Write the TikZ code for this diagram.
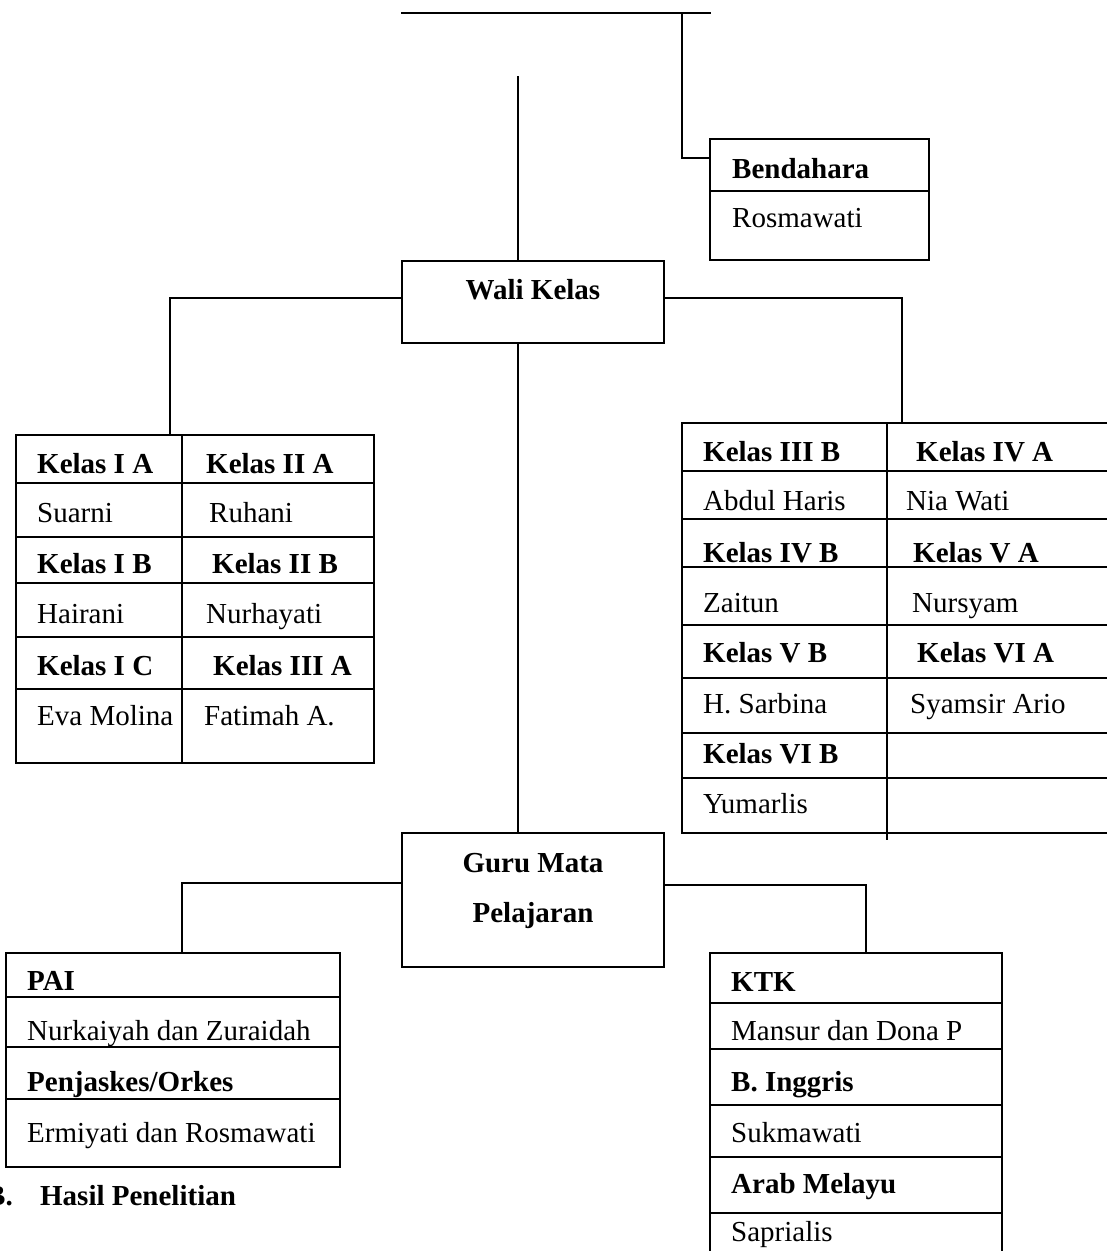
\documentclass[tikz,border=0pt]{standalone}
\usepackage{fontspec}
\setmainfont{Liberation Serif}
\newcommand\szz{\fontsize{29}{35}\selectfont}
\tikzset{
  ln/.style={line width=1.8pt},
  box/.style={draw, line width=1.8pt, rectangle, inner sep=0pt},
  frame/.style={rectangle, inner sep=0pt},
  hd/.style={anchor=base west, inner sep=0pt, font=\szz\bfseries},
  nm/.style={anchor=base west, inner sep=0pt, font=\szz},
  ctr/.style={anchor=base, inner sep=0pt, font=\szz\bfseries},
}
\begin{document}
\begin{tikzpicture}[x=1pt,y=-1pt]
\useasboundingbox (0,0) rectangle (1107,1251);
% free ends
\coordinate (tl) at (401,13);
\coordinate (tr) at (711,13);
\coordinate (tj) at (682,13);
\coordinate (vtop) at (518,76);
% boxes
\node[box, minimum width=219pt, minimum height=121pt] (bend) at (819.5,199.5) {};
\node[box, minimum width=262pt, minimum height=82pt] (wali) at (533,302) {};
\node[box, minimum width=262pt, minimum height=134pt] (guru) at (533,900) {};
\node[box, minimum width=358pt, minimum height=328pt] (ltab) at (195,599) {};
\node[frame, minimum width=425pt, minimum height=410pt] (rtab) at (894.5,628) {};
\node[box, minimum width=334pt, minimum height=214pt] (pai) at (173,1060) {};
\node[frame, minimum width=292pt, minimum height=298pt] (ktk) at (856,1102) {};
% connectors
\draw[ln] (tl) -- (tr);
\draw[ln] (tj) |- ([yshift=41.5pt]bend.west);
\draw[ln] (vtop) -- ([xshift=-15pt]wali.north);
\draw[ln] ([yshift=4pt]wali.west) -| ([xshift=-25pt]ltab.north);
\draw[ln] ([yshift=4pt]wali.east) -| ([xshift=7.5pt]rtab.north);
\draw[ln] ([xshift=-15pt]wali.south) -- ([xshift=-15pt]guru.north);
\draw[ln] ([yshift=17pt]guru.west) -| ([xshift=9pt]pai.north);
\draw[ln] ([yshift=15pt]guru.east) -| ([xshift=10pt]ktk.north);
% Bendahara
\draw[ln] (710,191) -- (929,191);
\node[hd] (bendh) at (732,178) {Bendahara};
\node[nm] (bendn) at (732,227) {Rosmawati};
% Wali Kelas, Guru Mata Pelajaran
\node[ctr] (walit) at (533,299) {Wali Kelas};
\node[ctr] (gurut1) at (533,872) {Guru Mata};
\node[ctr] (gurut2) at (533,922) {Pelajaran};
% left table
\foreach \yy in {483,537,583,637,689} \draw[ln] (16,\yy) -- (374,\yy);
\draw[ln] (182,435) -- (182,763);
\node[hd] (l1) at (37,473) {Kelas I A};
\node[nm] (l2) at (37,522) {Suarni};
\node[hd] (l3) at (37,573) {Kelas I B};
\node[nm] (l4) at (37,623) {Hairani};
\node[hd] (l5) at (37,675) {Kelas I C};
\node[nm] (l6) at (37,725) {Eva Molina};
\node[hd] (l7) at (206,473) {Kelas II A};
\node[nm] (l8) at (209,522) {Ruhani};
\node[hd] (l9) at (212,573) {Kelas II B};
\node[nm] (l10) at (206,623) {Nurhayati};
\node[hd] (l11) at (213,675) {Kelas III A};
\node[nm] (l12) at (204,725) {Fatimah A.};
% right table
\draw[ln] (rtab.north east) -- (rtab.north west) -- (rtab.south west) -- (rtab.south east);
\foreach \yy in {471,519,567,625,678,733,778} \draw[ln] (682,\yy) -- (1107,\yy);
\draw[ln] (887,423) -- (887,840);
\node[hd] (r1) at (703,461) {Kelas III B};
\node[nm] (r2) at (703,510) {Abdul Haris};
\node[hd] (r3) at (703,562) {Kelas IV B};
\node[nm] (r4) at (703,612) {Zaitun};
\node[hd] (r5) at (703,662) {Kelas V B};
\node[nm] (r6) at (703,713) {H. Sarbina};
\node[hd] (r7) at (703,763) {Kelas VI B};
\node[nm] (r8) at (703,813) {Yumarlis};
\node[hd] (r9) at (916,461) {Kelas IV A};
\node[nm] (r10) at (906,510) {Nia Wati};
\node[hd] (r11) at (913,562) {Kelas V A};
\node[nm] (r12) at (912,612) {Nursyam};
\node[hd] (r13) at (917,662) {Kelas VI A};
\node[nm] (r14) at (910,713) {Syamsir Ario};
% PAI table
\foreach \yy in {997,1047,1099} \draw[ln] (6,\yy) -- (340,\yy);
\node[hd] (p1) at (27,990) {PAI};
\node[nm] (p2) at (27,1040) {Nurkaiyah dan Zuraidah};
\node[hd] (p3) at (27,1091) {Penjaskes/Orkes};
\node[nm] (p4) at (27,1142) {Ermiyati dan Rosmawati};
% KTK table
\draw[ln] (ktk.south west) -- (ktk.north west) -- (ktk.north east) -- (ktk.south east);
\foreach \yy in {1003,1049,1105,1157,1213} \draw[ln] (710,\yy) -- (1002,\yy);
\node[hd] (k1) at (731,991) {KTK};
\node[nm] (k2) at (731,1040) {Mansur dan Dona P};
\node[hd] (k3) at (731,1091) {B. Inggris};
\node[nm] (k4) at (731,1142) {Sukmawati};
\node[hd] (k5) at (731,1193) {Arab Melayu};
\node[nm] (k6) at (731,1241) {Saprialis};
% heading
\node[hd] (hasil) at (-14,1205) {B.\hspace{27.4pt}Hasil Penelitian};
\end{tikzpicture}
\end{document}
